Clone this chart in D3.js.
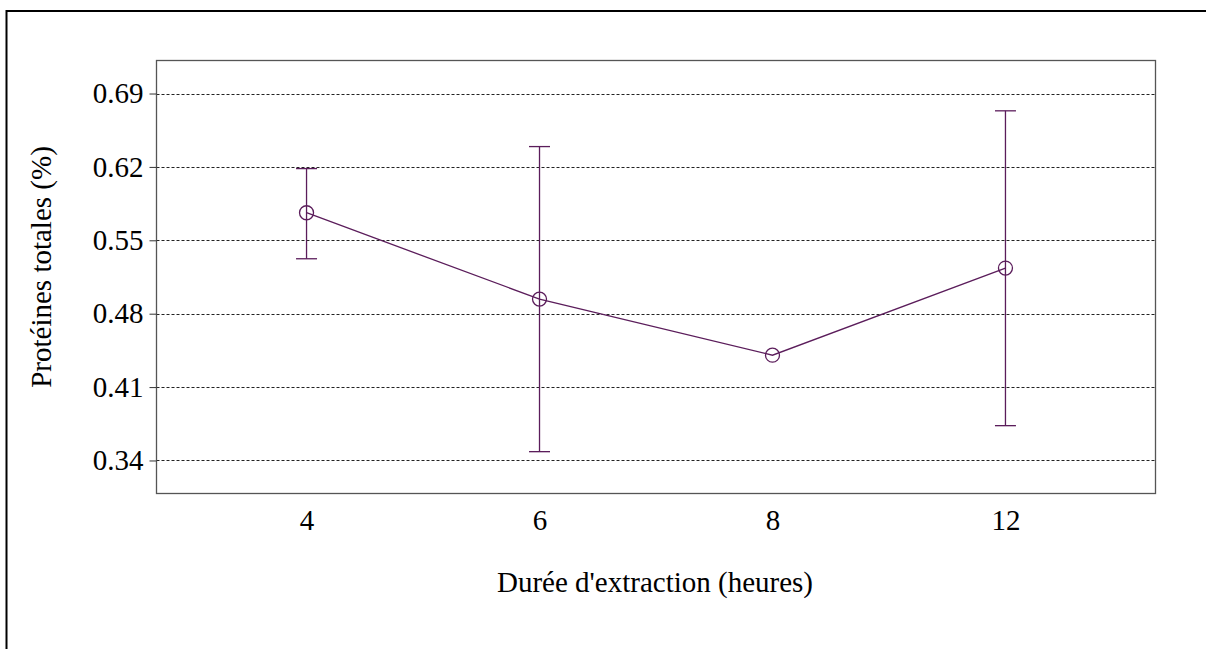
<!DOCTYPE html>
<html>
<head>
<meta charset="utf-8">
<script src="https://cdn.jsdelivr.net/npm/d3@7"></script>
<style>
  html, body { margin: 0; padding: 0; background: #fff; overflow: hidden; }
  svg { display: block; }
  text { font-family: "Liberation Serif", "Times New Roman", serif; fill: #000; }
</style>
</head>
<body>
<svg id="chart" width="1206" height="649"></svg>
<script>
// Data
const categories = ["4", "6", "8", "12"];
const means = [0.5763, 0.4939, 0.4404, 0.5235];
const upper = [0.6184, 0.6394, 0.4404, 0.6735];
const lower = [0.5324, 0.3484, 0.4404, 0.3732];
const yTicks = [0.34, 0.41, 0.48, 0.55, 0.62, 0.69];
const xTitle = "Durée d'extraction (heures)";
const yTitle = "Protéines totales (%)";

const color = "#5b1d5b";
const svg = d3.select("#chart");

// outer frame (only top and left edges fall inside the picture)
svg.append("path").attr("d", "M6.5,660 L6.5,11 L1220,11")
  .attr("fill", "none").attr("stroke", "#000").attr("stroke-width", 2);

const plot = { left: 156.5, top: 60.5, right: 1155.5, bottom: 493.5 };

const x = d3.scalePoint().domain(categories).range([plot.left, plot.right]).padding(0.644);
const y = d3.scaleLinear().domain([0.3085, 0.7215]).range([plot.bottom, plot.top]);

// gridlines
svg.append("g").selectAll("line").data(yTicks).join("line")
  .attr("x1", plot.left).attr("x2", plot.right)
  .attr("y1", d => Math.round(y(d)) + 0.5).attr("y2", d => Math.round(y(d)) + 0.5)
  .attr("stroke", "#222").attr("stroke-width", 1).attr("stroke-dasharray", "3,2");

// plot box
svg.append("rect").attr("x", plot.left).attr("y", plot.top)
  .attr("width", plot.right - plot.left).attr("height", plot.bottom - plot.top)
  .attr("fill", "none").attr("stroke", "#555").attr("stroke-width", 1.3);

// y axis
const yAxis = d3.axisLeft(y).tickValues(yTicks).tickFormat(d3.format(".2f")).tickSize(7).tickPadding(6);
const gy = svg.append("g").attr("transform", `translate(${plot.left},0)`).call(yAxis);
gy.select(".domain").remove();
gy.selectAll(".tick line").attr("stroke", "#333");
gy.selectAll(".tick text").style("font-size", "29px").attr("fill", "#000");

// x axis (labels only)
const xAxis = d3.axisBottom(x).tickSize(0).tickPadding(16);
const gx = svg.append("g").attr("transform", `translate(0,${plot.bottom})`).call(xAxis);
gx.select(".domain").remove();
gx.selectAll(".tick text").style("font-size", "29px").attr("fill", "#000");

// axis titles
svg.append("text").attr("x", 655).attr("y", 592).attr("text-anchor", "middle")
  .style("font-size", "29px").text(xTitle);
svg.append("text").attr("transform", "translate(51,267) rotate(-90)").attr("text-anchor", "middle")
  .style("font-size", "29px").text(yTitle);

// error bars
const eb = svg.append("g").attr("stroke", color).attr("stroke-width", 1.3).attr("fill", "none");
categories.forEach((c, i) => {
  if (upper[i] === lower[i]) return;
  const cx = x(c);
  eb.append("line").attr("x1", cx).attr("x2", cx).attr("y1", y(upper[i])).attr("y2", y(lower[i]));
  eb.append("line").attr("x1", cx - 10.5).attr("x2", cx + 10.5).attr("y1", y(upper[i])).attr("y2", y(upper[i]));
  eb.append("line").attr("x1", cx - 10.5).attr("x2", cx + 10.5).attr("y1", y(lower[i])).attr("y2", y(lower[i]));
});

// line
const line = d3.line().x((d, i) => x(categories[i])).y(d => y(d));
svg.append("path").datum(means).attr("d", line)
  .attr("fill", "none").attr("stroke", color).attr("stroke-width", 1.3);

// points
svg.append("g").selectAll("circle").data(means).join("circle")
  .attr("cx", (d, i) => x(categories[i])).attr("cy", d => y(d)).attr("r", 7)
  .attr("fill", "none").attr("stroke", color).attr("stroke-width", 1.3);
</script>
</body>
</html>
